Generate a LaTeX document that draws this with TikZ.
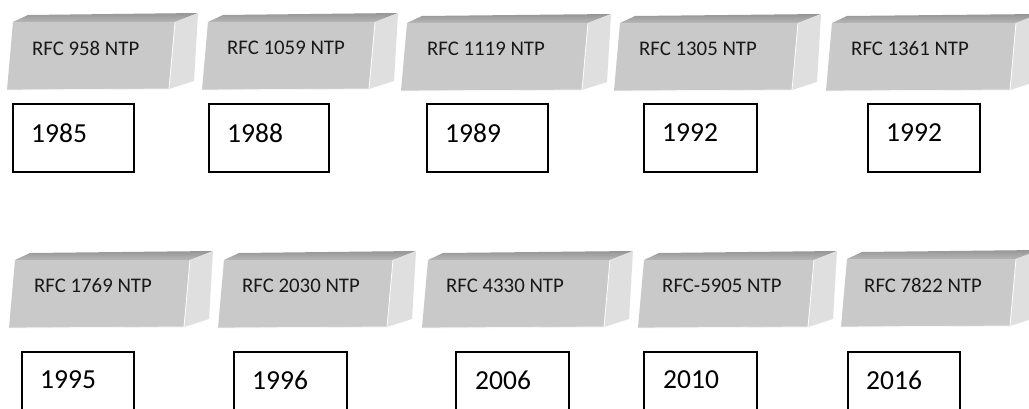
\documentclass[tikz,border=0pt]{standalone}
\usepackage{fontspec}
\setmainfont{Carlito}
\definecolor{frontgray}{RGB}{201,201,201}
\definecolor{sidegray}{RGB}{223,223,223}
\definecolor{topdark}{RGB}{150,150,150}
\definecolor{toplight}{RGB}{182,182,182}
\newcommand\rfccube[6]{%
  \shade[top color=topdark, bottom color=toplight] (#2,#3) -- ({#2+15},{#3-7}) -- ({#2+#4+23},{#3-9}) -- ({#2+#4},#3) -- cycle;
  \fill[sidegray] ({#2+#4},#3) -- ({#2+#4+23},{#3-9}) -- ({#2+#4+19},{#3+59}) -- ({#2+#4-6},{#3+67}) -- cycle;
  \fill[frontgray] (#2,#3) -- ({#2+#4},#3) -- ({#2+#4-6},{#3+67}) -- ({#2-6},{#3+68}) -- cycle;
  \draw[white, line width=0.8pt] ({#2+#4},#3) -- ({#2+#4-6},{#3+67});
  \draw[white!85!frontgray, line width=0.8pt] ({#2-6},{#3+68}) -- ({#2+#4-6},{#3+67});
  \node[rfclabel] (#1) at ({#5-2},{#3+26}) {#6};
}
\newcommand\yearitem[6]{% name, x, y, width, height, year
  \node[yearbox, minimum width=#4pt, minimum height=#5pt] (#1) at (#2,#3) {};
  \node[yeartext] (#1t) at ([xshift=19pt,yshift=5pt]#1.west) {#6};
}
\begin{document}
\begin{tikzpicture}[x=1pt,y=-1pt,
  rfclabel/.style={anchor=west, inner sep=0pt, font=\fontsize{20.8}{24}\selectfont, text=black!90},
  yearbox/.style={draw=black, line width=1.6pt, anchor=north west, inner sep=0pt},
  yeartext/.style={anchor=west, inner sep=0pt, font=\fontsize{27.5}{32}\selectfont}]
\useasboundingbox (0,0) rectangle (1029,409);
\fill[white] (0,0) rectangle (1029,409);
\clip (0,0) rectangle (1029,409);
% top row
\rfccube{r1}{13}{22}{162}{34}{RFC 958 NTP}
\rfccube{r2}{208}{22}{167}{229}{RFC 1059 NTP}
\rfccube{r3}{407}{23}{181}{429}{RFC 1119 NTP}
\rfccube{r4}{620}{23}{178}{641}{RFC 1305 NTP}
\rfccube{r5}{832}{23}{184}{853}{RFC 1361 NTP}
\yearitem{y1}{12}{103}{121}{68}{1985}
\yearitem{y2}{208}{103}{120}{68}{1988}
\yearitem{y3}{426}{103}{121}{68}{1989}
\yearitem{y4}{643}{103}{113}{68}{1992}
\yearitem{y5}{867}{103}{112}{68}{1992}
% bottom row
\rfccube{r6}{15}{260}{175}{36}{RFC 1769 NTP}
\rfccube{r7}{224}{260}{169}{244}{RFC 2030 NTP}
\rfccube{r8}{428}{260}{182}{448}{RFC 4330 NTP}
\rfccube{r9}{644}{260}{170}{664}{RFC-5905 NTP}
\rfccube{r10}{847}{259}{169}{866}{RFC 7822 NTP}
\node[yearbox, minimum width=112pt, minimum height=80pt] (y6) at (21,351) {};
\node[yeartext] (y6t) at (40,380) {1995};
\node[yearbox, minimum width=113pt, minimum height=80pt] (y7) at (233,351) {};
\node[yeartext] (y7t) at (252,380) {1996};
\node[yearbox, minimum width=113pt, minimum height=80pt] (y8) at (455,351) {};
\node[yeartext] (y8t) at (475,380) {2006};
\node[yearbox, minimum width=113pt, minimum height=80pt] (y9) at (643,351) {};
\node[yeartext] (y9t) at (663,380) {2010};
\node[yearbox, minimum width=112pt, minimum height=80pt] (y10) at (847,351) {};
\node[yeartext] (y10t) at (866,380) {2016};
\end{tikzpicture}
\end{document}
